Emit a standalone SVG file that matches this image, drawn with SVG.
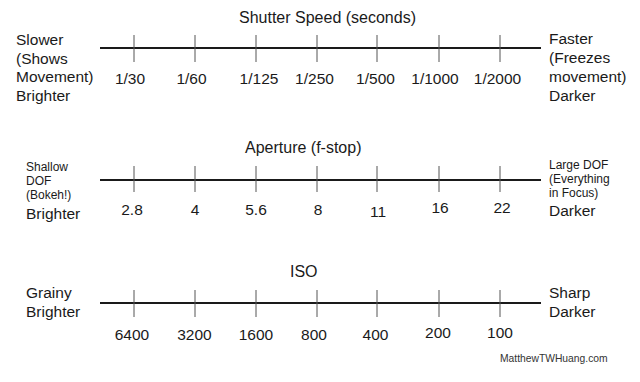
<svg xmlns="http://www.w3.org/2000/svg" width="640" height="382" viewBox="0 0 640 382">
<style>
text{font-family:"Liberation Sans",Arial,sans-serif;fill:#1a1a1a}
.t{font-size:16px}
.s{font-size:15.5px}
.n{font-size:15.5px;text-anchor:middle}
.sm{font-size:12px}
.w{font-size:10.3px;fill:#333}
.axis{stroke:#1a1a1a;stroke-width:2}
.tick{stroke:#555;stroke-width:1}
</style>
<rect width="640" height="382" fill="#fff"/>
<g id="connectors">
<line class="axis" x1="100" y1="48" x2="541" y2="48"/>
<g id="ticks1">
<line class="tick" x1="134" y1="35" x2="134" y2="62"/>
<line class="tick" x1="195" y1="35" x2="195" y2="62"/>
<line class="tick" x1="256" y1="35" x2="256" y2="62"/>
<line class="tick" x1="317" y1="35" x2="317" y2="62"/>
<line class="tick" x1="377" y1="35" x2="377" y2="62"/>
<line class="tick" x1="439" y1="35" x2="439" y2="62"/>
<line class="tick" x1="500" y1="35" x2="500" y2="62"/>
</g>
<line class="axis" x1="100" y1="180" x2="541" y2="180"/>
<g id="ticks2">
<line class="tick" x1="134" y1="166" x2="134" y2="192"/>
<line class="tick" x1="195" y1="166" x2="195" y2="192"/>
<line class="tick" x1="256" y1="166" x2="256" y2="192"/>
<line class="tick" x1="317" y1="166" x2="317" y2="192"/>
<line class="tick" x1="377" y1="166" x2="377" y2="192"/>
<line class="tick" x1="439" y1="166" x2="439" y2="192"/>
<line class="tick" x1="500" y1="166" x2="500" y2="192"/>
</g>
<line class="axis" x1="100" y1="303" x2="541" y2="303"/>
<g id="ticks3">
<line class="tick" x1="134" y1="290" x2="134" y2="317"/>
<line class="tick" x1="195" y1="290" x2="195" y2="317"/>
<line class="tick" x1="256" y1="290" x2="256" y2="317"/>
<line class="tick" x1="317" y1="290" x2="317" y2="317"/>
<line class="tick" x1="377" y1="290" x2="377" y2="317"/>
<line class="tick" x1="439" y1="290" x2="439" y2="317"/>
<line class="tick" x1="500" y1="290" x2="500" y2="317"/>
</g>
</g>
<g id="shutter">
<text class="t" x="239" y="23">Shutter Speed (seconds)</text>
<text class="s" x="16" y="45">Slower</text>
<text class="s" x="16" y="64">(Shows</text>
<text class="s" x="16" y="82">Movement)</text>
<text class="s" x="16" y="101">Brighter</text>
<text class="s" x="549" y="44">Faster</text>
<text class="s" x="549" y="63">(Freezes</text>
<text class="s" x="549" y="82">movement)</text>
<text class="s" x="549" y="101">Darker</text>
<text class="n" x="130" y="84">1/30</text>
<text class="n" x="191.5" y="84">1/60</text>
<text class="n" x="259" y="84">1/125</text>
<text class="n" x="314.5" y="84">1/250</text>
<text class="n" x="375.5" y="84">1/500</text>
<text class="n" x="435" y="84">1/1000</text>
<text class="n" x="497.5" y="84">1/2000</text>
</g>
<g id="aperture">
<text class="t" x="245" y="153">Aperture (f-stop)</text>
<text class="sm" x="26" y="171">Shallow</text>
<text class="sm" x="26" y="185">DOF</text>
<text class="sm" x="26" y="199">(Bokeh!)</text>
<text class="s" x="26" y="219">Brighter</text>
<text class="sm" x="549" y="169">Large DOF</text>
<text class="sm" x="549" y="183">(Everything</text>
<text class="sm" x="549" y="197">in Focus)</text>
<text class="s" x="549" y="216">Darker</text>
<text class="n" x="132" y="215">2.8</text>
<text class="n" x="195" y="215">4</text>
<text class="n" x="256" y="215">5.6</text>
<text class="n" x="318" y="215">8</text>
<text class="n" x="378" y="217">11</text>
<text class="n" x="440" y="213">16</text>
<text class="n" x="502" y="213">22</text>
</g>
<g id="iso">
<text class="t" x="290" y="277">ISO</text>
<text class="s" x="26" y="298">Grainy</text>
<text class="s" x="26" y="317">Brighter</text>
<text class="s" x="549" y="298">Sharp</text>
<text class="s" x="549" y="317">Darker</text>
<text class="n" x="132" y="340">6400</text>
<text class="n" x="194.5" y="340">3200</text>
<text class="n" x="256" y="340">1600</text>
<text class="n" x="314" y="340">800</text>
<text class="n" x="375.5" y="340">400</text>
<text class="n" x="438" y="338">200</text>
<text class="n" x="500" y="338">100</text>
</g>
<g id="watermark">
<text class="w" x="500" y="362">MatthewTWHuang.com</text>
</g>
</svg>
